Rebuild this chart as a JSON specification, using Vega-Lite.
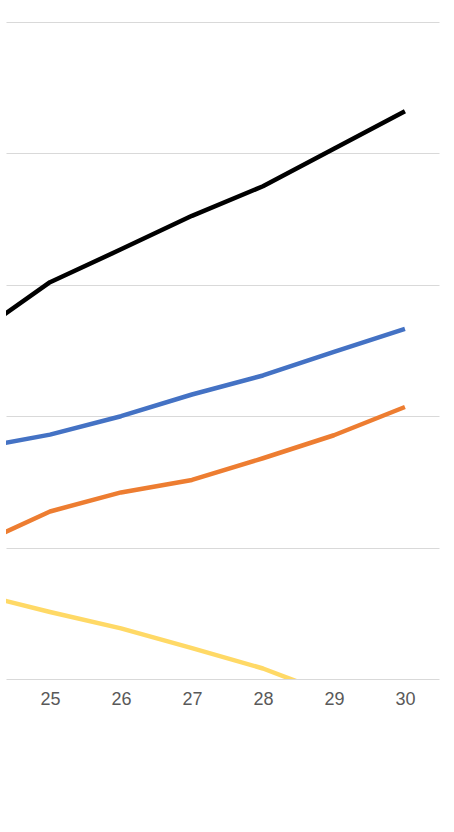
{
  "$schema": "https://vega.github.io/schema/vega-lite/v6.json",
  "width": 433,
  "height": 657,
  "autosize": {"type": "none"},
  "padding": {"left": 6, "top": 22, "right": 15, "bottom": 153},
  "background": "#FFFFFF",
  "config": {"view": {"stroke": null}},
  "data": {
    "values": [
      {"x": 24, "v": 52.8, "s": "Series 1"},
      {"x": 25, "v": 60.4, "s": "Series 1"},
      {"x": 26, "v": 65.4, "s": "Series 1"},
      {"x": 27, "v": 70.5, "s": "Series 1"},
      {"x": 28, "v": 75.0, "s": "Series 1"},
      {"x": 29, "v": 80.7, "s": "Series 1"},
      {"x": 30, "v": 86.4, "s": "Series 1"},
      {"x": 24, "v": 35.2, "s": "Series 2"},
      {"x": 25, "v": 37.2, "s": "Series 2"},
      {"x": 26, "v": 40.0, "s": "Series 2"},
      {"x": 27, "v": 43.3, "s": "Series 2"},
      {"x": 28, "v": 46.2, "s": "Series 2"},
      {"x": 29, "v": 49.8, "s": "Series 2"},
      {"x": 30, "v": 53.3, "s": "Series 2"},
      {"x": 24, "v": 20.5, "s": "Series 3"},
      {"x": 25, "v": 25.5, "s": "Series 3"},
      {"x": 26, "v": 28.4, "s": "Series 3"},
      {"x": 27, "v": 30.3, "s": "Series 3"},
      {"x": 28, "v": 33.6, "s": "Series 3"},
      {"x": 29, "v": 37.1, "s": "Series 3"},
      {"x": 30, "v": 41.4, "s": "Series 3"},
      {"x": 24, "v": 12.9, "s": "Series 4"},
      {"x": 25, "v": 10.2, "s": "Series 4"},
      {"x": 26, "v": 7.7, "s": "Series 4"},
      {"x": 27, "v": 4.7, "s": "Series 4"},
      {"x": 28, "v": 1.6, "s": "Series 4"},
      {"x": 29, "v": -2.5, "s": "Series 4"},
      {"x": 30, "v": -5.5, "s": "Series 4"}
    ]
  },
  "mark": {"type": "line", "strokeWidth": 4.5, "clip": true, "strokeJoin": "round", "strokeCap": "butt"},
  "encoding": {
    "x": {
      "field": "x",
      "type": "quantitative",
      "scale": {"domain": [24.38, 30.48], "nice": false, "zero": false},
      "axis": {
        "title": null,
        "values": [25, 26, 27, 28, 29, 30],
        "format": "d",
        "grid": false,
        "domain": false,
        "ticks": false,
        "labelFont": "Liberation Sans",
        "labelFontSize": 18,
        "labelColor": "#595959",
        "labelPadding": 11
      }
    },
    "y": {
      "field": "v",
      "type": "quantitative",
      "scale": {"domain": [0, 100], "nice": false},
      "axis": {
        "title": null,
        "values": [0, 20, 40, 60, 80, 100],
        "labels": false,
        "ticks": false,
        "domain": false,
        "grid": true,
        "gridColor": "#D9D9D9",
        "gridWidth": 1.2
      }
    },
    "color": {
      "field": "s",
      "type": "nominal",
      "scale": {
        "domain": ["Series 1", "Series 2", "Series 3", "Series 4"],
        "range": ["#000000", "#4472C4", "#ED7D31", "#FFD966"]
      },
      "legend": null
    }
  }
}
